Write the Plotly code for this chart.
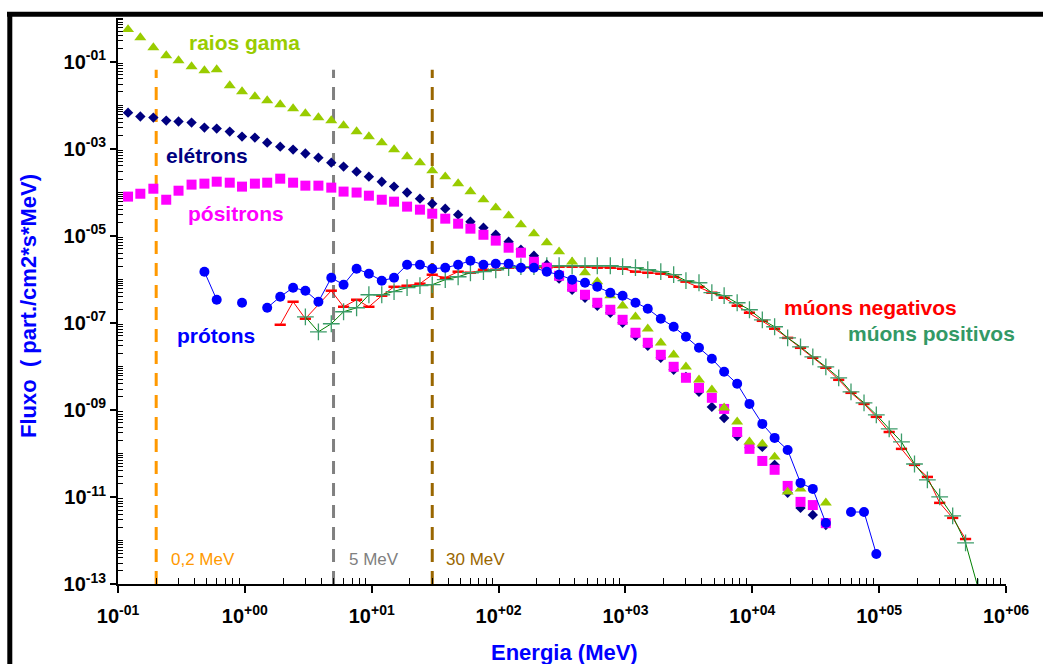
import plotly.graph_objects as go

# ---------------- data ----------------
gamma_E = [0.12, 0.15, 0.19, 0.24, 0.30, 0.38, 0.48, 0.60, 0.76, 0.95, 1.2, 1.5, 1.9, 2.4, 3.0, 3.8, 4.8, 6.0, 7.6, 9.5,
           12, 15, 19, 24, 30, 38, 48, 60, 76, 95, 120, 150, 190, 240, 300, 380, 480, 600, 760, 950,
           1200, 1500, 1900, 2400, 3000, 3800, 4800, 6000, 7600, 9500, 12000, 15000, 19000, 24000, 38000]
gamma_F = [0.545, 0.356, 0.21, 0.137, 0.105, 0.0767, 0.062, 0.0655, 0.028, 0.0204, 0.0157, 0.0127, 0.0103, 0.0083,
           0.00638, 0.00516, 0.0044, 0.00338, 0.00246, 0.00189, 0.00137, 0.00095, 0.000655, 0.000476, 0.000312,
           0.000227, 0.000157, 0.000103, 6.73e-5, 4.41e-5, 2.88e-5, 1.79e-5, 1.11e-5, 6.9e-6, 4.29e-6, 2.52e-6,
           1.41e-6, 8.8e-7, 4.18e-7, 2.46e-7, 1.37e-7, 7.28e-8, 3.47e-8, 1.84e-8, 9.75e-9, 4.9e-9, 2.88e-9,
           1.11e-9, 5.3e-10, 1.84e-10, 1.65e-10, 8.3e-11, 1.3e-11, 1.53e-11, 7.3e-12]

lep_E = [0.12, 0.15, 0.19, 0.24, 0.30, 0.38, 0.48, 0.60, 0.76, 0.95, 1.2, 1.5, 1.9, 2.4, 3.0, 3.8, 4.8, 6.0, 7.6, 9.5,
         12, 15, 19, 24, 30, 38, 48, 60, 76, 95, 120, 150, 190, 240, 300, 380, 480, 600, 760, 950,
         1200, 1500, 1900, 2400, 3000, 3800, 4800, 6000, 7600, 9500, 12000, 15000, 19000, 24000, 30000, 38000]
electron_F = [6.7e-3, 5.45e-3, 5.16e-3, 4.4e-3, 4.18e-3, 3.96e-3, 3.04e-3, 2.88e-3, 2.46e-3, 1.89e-3, 1.79e-3,
              1.37e-3, 1.11e-3, 9.5e-4, 7.7e-4, 6.2e-4, 4.76e-4, 3.86e-4, 2.96e-4, 2.27e-4, 1.74e-4, 1.34e-4,
              9.8e-5, 7.1e-5, 5.45e-5, 4.18e-5, 3.04e-5, 2.1e-5, 1.53e-5, 1.05e-5, 7.3e-6, 4.76e-6, 3.47e-6,
              2.15e-6, 1.03e-6, 5.7e-7, 3.76e-7, 2.46e-7, 1.7e-7, 1.0e-7, 5.0e-8, 2.96e-8, 1.57e-8, 8.3e-9,
              5.7e-9, 2.6e-9, 1.17e-9, 6.5e-10, 2.5e-10, 1.34e-10, 1.41e-10, 5.45e-11, 1.24e-11, 5.6e-12,
              3.86e-12, 2.27e-12]
positron_F = [7.9e-5, 9.2e-5, 1.2e-4, 6.7e-5, 1.08e-4, 1.49e-4, 1.57e-4, 1.74e-4, 1.65e-4, 1.34e-4, 1.57e-4,
              1.65e-4, 2.04e-4, 1.65e-4, 1.41e-4, 1.41e-4, 1.27e-4, 1.03e-4, 9.8e-5, 8.3e-5, 6.7e-5, 6.05e-5,
              4.65e-5, 3.96e-5, 3.2e-5, 2.46e-5, 1.89e-5, 1.45e-5, 1.05e-5, 7.7e-6, 5.3e-6, 4.07e-6, 2.52e-6,
              1.84e-6, 1.2e-6, 6.7e-7, 4.4e-7, 2.88e-7, 1.99e-7, 1.17e-7, 5.9e-8, 3.47e-8, 1.84e-8, 9.75e-9,
              5.45e-9, 3.2e-9, 1.89e-9, 1.05e-9, 3.1e-10, 1.27e-10, 6.7e-11, 4.2e-11, 1.79e-11, 7.7e-12,
              6.5e-12, 2.5e-12]

proton_E = [0.48, 0.60, None, 0.95, None, 1.5, 1.9, 2.4, 3.0, 3.8, 4.8, 6.0, 7.6, 9.5, 12, 15, 19, 24, 30, 38,
            48, 60, 76, 95, 120, 150, 190, 240, 300, 380, 480, 600, 760, 950, 1200, 1500, 1900, 2400, 3000,
            3800, 4800, 6000, 7600, 9500, 12000, 15000, 19000, 24000, 30000, 38000, None, 60000, 76000, 95000]
proton_F = [1.49e-6, 3.38e-7, None, 2.88e-7, None, 2.21e-7, 3.96e-7, 6.4e-7, 5.45e-7, 3.04e-7, 1.08e-6, 7.5e-7,
            1.74e-6, 1.34e-6, 9.25e-7, 1.08e-6, 2.15e-6, 2.15e-6, 1.74e-6, 1.84e-6, 2.15e-6, 2.66e-6, 2.15e-6,
            2.27e-6, 2.27e-6, 1.84e-6, 1.84e-6, 1.49e-6, 1.27e-6, 9.75e-7, 8.3e-7, 6.7e-7, 4.9e-7, 4.18e-7,
            2.88e-7, 2.1e-7, 1.24e-7, 8.1e-8, 4.76e-8, 2.66e-8, 1.49e-8, 7.5e-9, 3.96e-9, 1.37e-9, 4.76e-10,
            2.27e-10, 1.2e-10, 2.1e-11, 1.53e-11, 2.52e-12, None, 4.5e-12, 4.5e-12, 4.9e-13]

muneg_E = [1.9, 2.4, 3.0, 4.8, 6.0, 7.6, 9.5, 12, 15, 19, 24, 30, 38, 48, 60, 76, 95, 120, 150, 190, 240, 300, 380,
           480, 600, 760, 950, 1200, 1500, 1900, 2400, 3000, 3800, 4800, 6000, 7600, 9500, 12000, 15000, 19000,
           24000, 30000, 38000, 48000, 60000, 76000, 95000, 120000, 150000, 190000, 240000, 300000, 380000, 480000]
muneg_F = [9.0e-8, 3.04e-7, 1.24e-7, 5.45e-7, 2.33e-7, 3.38e-7, 2.33e-7, 4.18e-7, 6.7e-7, 7.1e-7, 7.9e-7, 1.27e-6,
           1.08e-6, 1.49e-6, 1.41e-6, 1.65e-6, 1.65e-6, 1.84e-6, 1.84e-6, 1.84e-6, 1.84e-6, 1.94e-6, 1.94e-6,
           1.94e-6, 1.84e-6, 1.84e-6, 1.74e-6, 1.49e-6, 1.41e-6, 1.34e-6, 1.14e-6, 8.8e-7, 6.7e-7, 4.9e-7,
           3.76e-7, 2.46e-7, 1.7e-7, 1.11e-7, 7.3e-8, 4.5e-8, 2.66e-8, 1.57e-8, 9.25e-9, 4.9e-9, 2.46e-9,
           1.37e-9, 6.9e-10, 3.1e-10, 1.27e-10, 5.45e-11, 2.88e-11, 7.3e-12, 3.3e-12, 1.08e-12]

mupos_E = [3.0, 3.8, 4.8, 6.0, 7.6, 9.5, 12, 15, 19, 24, 30, 38, 48, 60, 76, 95, 120, 150, 190, 240, 300, 380, 480,
           600, 760, 950, 1200, 1500, 1900, 2400, 3000, 3800, 4800, 6000, 7600, 9500, 12000, 15000, 19000, 24000,
           30000, 38000, 48000, 60000, 76000, 95000, 120000, 150000, 190000, 240000, 300000, 380000, 480000, 600000]
mupos_F = [1.37e-7, 6.2e-8, 9.5e-8, 1.79e-7, 2.21e-7, 4.4e-7, 4.4e-7, 5.2e-7, 6.4e-7, 7.1e-7, 7.5e-7, 9.75e-7,
           1.14e-6, 1.41e-6, 1.49e-6, 1.65e-6, 1.84e-6, 1.94e-6, 1.94e-6, 2.04e-6, 2.04e-6, 2.04e-6, 2.04e-6,
           2.04e-6, 2.04e-6, 1.94e-6, 1.84e-6, 1.65e-6, 1.49e-6, 1.27e-6, 9.25e-7, 8.3e-7, 4.9e-7, 4.18e-7,
           2.88e-7, 1.99e-7, 1.17e-7, 8.1e-8, 4.5e-8, 2.8e-8, 1.65e-8, 9.75e-9, 5.45e-9, 2.6e-9, 1.45e-9,
           7.7e-10, 3.66e-10, 1.84e-10, 5.7e-11, 2.46e-11, 1.0e-11, 3.66e-12, 8.8e-13, 8.5e-14]

# threshold markers (energy, label, colour)
thresh_E = [0.2, 5, 30]
thresh_labels = ["0,2 MeV", "5 MeV", "30 MeV"]
thresh_colors = ["#FF9900", "#808080", "#996600"]
thresh_top = 0.065

x_exponents = list(range(-1, 7))
y_exponents = list(range(-13, 1))
y_label_exponents = [-13, -11, -9, -7, -5, -3, -1]

# ---------------- figure ----------------
W, H = 1043, 664
L, R, T, B = 118, 37, 18, 80
PW, PH = W - L - R, H - T - B


def px(xp):
    return (xp - L) / PW


def py(yp):
    return (H - B - yp) / PH


FONT = "Liberation Sans, Arial, sans-serif"
fig = go.Figure()

# threshold dashed lines
for e, c in zip(thresh_E, thresh_colors):
    fig.add_trace(go.Scatter(x=[e, e], y=[1e-13, thresh_top], mode="lines",
                             line=dict(color=c, width=3, dash="13px,9px"), hoverinfo="skip"))

fig.add_trace(go.Scatter(x=muneg_E, y=muneg_F, mode="lines+markers", name="múons negativos",
                         line=dict(color="#FF0000", width=1),
                         marker=dict(symbol="line-ew-open", size=8, color="#FF0000",
                                     line=dict(color="#FF0000", width=2.5))))
fig.add_trace(go.Scatter(x=mupos_E, y=mupos_F, mode="lines+markers", name="múons positivos",
                         line=dict(color="#008000", width=1),
                         marker=dict(symbol="cross-thin-open", size=12, color="#3C9C6A",
                                     line=dict(color="#3C9C6A", width=1.3))))
fig.add_trace(go.Scatter(x=lep_E, y=electron_F, mode="markers", name="elétrons",
                         marker=dict(symbol="diamond", size=8, color="#000080")))
fig.add_trace(go.Scatter(x=lep_E, y=positron_F, mode="markers", name="pósitrons",
                         marker=dict(symbol="square", size=10, color="#FF00FF")))
fig.add_trace(go.Scatter(x=gamma_E, y=gamma_F, mode="markers", name="raios gama",
                         marker=dict(symbol="triangle-up", size=10.5, color="#99CC00")))
fig.add_trace(go.Scatter(x=proton_E, y=proton_F, mode="lines+markers", name="prótons",
                         connectgaps=False,
                         line=dict(color="#0000FF", width=1),
                         marker=dict(symbol="circle", size=10, color="#0000FF")))

tick_font = dict(family=FONT, size=20, color="black")
fig.update_xaxes(type="log", range=[-1, 6], showgrid=False, zeroline=False,
                 showline=True, linecolor="black", linewidth=2,
                 ticks="outside", ticklen=7, tickwidth=2, tickcolor="black",
                 ticklabelstandoff=6,
                 tickvals=[10.0 ** k for k in x_exponents],
                 ticktext=[f"<b>10<sup>{k:+03d}</sup></b>" for k in x_exponents],
                 tickfont=tick_font,
                 minor=dict(ticks="inside", ticklen=6, tickwidth=1, tickcolor="black",
                            tickvals=[m * 10.0 ** k for k in x_exponents[:-1] for m in range(2, 10)]))
fig.update_yaxes(type="log", range=[-13, 0], showgrid=False, zeroline=False,
                 showline=True, linecolor="black", linewidth=2,
                 ticks="outside", ticklen=6, tickwidth=2, tickcolor="black",
                 tickvals=[10.0 ** k for k in y_label_exponents],
                 ticktext=[f"<b>10<sup>{k:+03d}</sup></b>" for k in y_label_exponents],
                 tickfont=tick_font,
                 minor=dict(ticks="inside", ticklen=5, tickwidth=1, tickcolor="black",
                            tickvals=[m * 10.0 ** k for k in y_exponents for m in range(1, 10)
                                      if not (m == 1 and k in y_label_exponents)]))

annotations = [
    dict(text="<b>raios gama</b>", x=px(244), y=py(43), color="#99CC00", size=21),
    dict(text="<b>elétrons</b>", x=px(207), y=py(155), color="#000080", size=21),
    dict(text="<b>pósitrons</b>", x=px(236), y=py(213), color="#FF00FF", size=21),
    dict(text="<b>prótons</b>", x=px(216), y=py(335), color="#0000FF", size=21),
    dict(text="<b>múons negativos</b>", x=px(870), y=py(307), color="#FF0000", size=21),
    dict(text="<b>múons positivos</b>", x=px(931), y=py(333), color="#339966", size=21),
]
for lbl, c, xc in zip(thresh_labels, thresh_colors, [203, 374, 475]):
    annotations.append(dict(text=lbl, x=px(xc), y=py(559), color=c, size=17))

for a in annotations:
    fig.add_annotation(text=a["text"], x=a["x"], y=a["y"], xref="paper", yref="paper",
                       showarrow=False, xanchor="center", yanchor="middle",
                       font=dict(family=FONT, size=a["size"], color=a["color"]))

fig.add_annotation(text="<b>Energia (MeV)</b>", x=px(564), y=py(652), xref="paper", yref="paper",
                   showarrow=False, xanchor="center", yanchor="middle",
                   font=dict(family=FONT, size=22, color="#0000FF"))
fig.add_annotation(text="<b>Fluxo &nbsp;( part./cm2*s*MeV)</b>", x=px(28), y=py(306), xref="paper", yref="paper",
                   showarrow=False, xanchor="center", yanchor="middle", textangle=-90,
                   font=dict(family=FONT, size=22, color="#0000FF"))

# black frame lines (top and left), as in the original picture
fig.add_shape(type="line", xref="paper", yref="paper", x0=px(7), x1=px(1043), y0=py(14.3), y1=py(14.3),
              line=dict(color="black", width=5))
fig.add_shape(type="line", xref="paper", yref="paper", x0=px(9.8), x1=px(9.8), y0=py(12), y1=py(664),
              line=dict(color="black", width=5))

fig.update_layout(width=W, height=H, margin=dict(l=L, r=R, t=T, b=B),
                  paper_bgcolor="white", plot_bgcolor="white", showlegend=False,
                  font=dict(family=FONT))

fig.write_html("out.html")
